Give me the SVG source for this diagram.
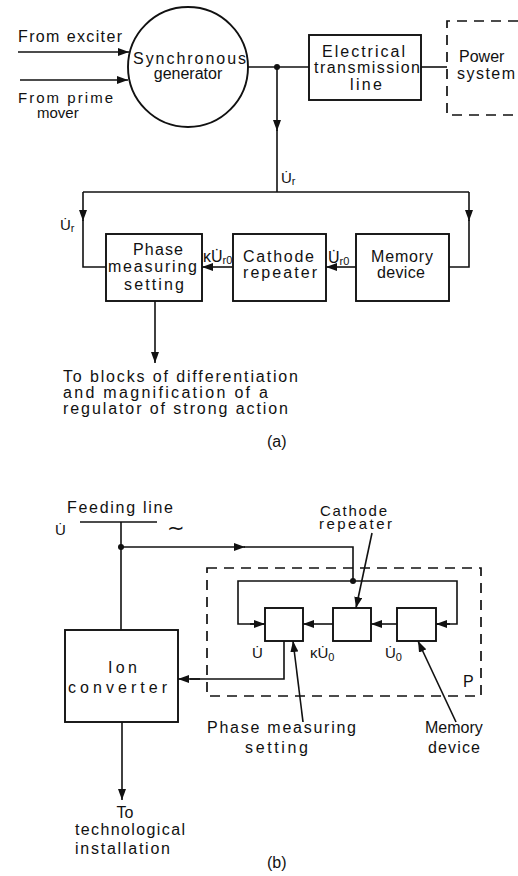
<svg xmlns="http://www.w3.org/2000/svg" width="518" height="876" viewBox="0 0 518 876">
<defs>
<style>
text{font-family:"Liberation Sans","DejaVu Sans",sans-serif;font-size:16px;fill:#111}
.ln{fill:none;stroke:#111;stroke-width:1.6}
.bx{fill:#fff;stroke:#111;stroke-width:1.9}
.ds{fill:none;stroke:#111;stroke-width:1.7;stroke-dasharray:10 7}
.sm{font-size:15px}
.sub{font-size:11px}
.t{font-size:15px}
.c{text-anchor:middle}
</style>
<marker id="ah" viewBox="0 0 11 8" refX="11" refY="4" markerWidth="11" markerHeight="8" markerUnits="userSpaceOnUse" orient="auto">
<path d="M0,0 L11,4 L0,8 Z" fill="#111"/>
</marker>
</defs>
<rect width="518" height="876" fill="#fff"/>

<g id="connectors">
<!-- (a) -->
<line class="ln" x1="18" y1="52" x2="129" y2="52" marker-end="url(#ah)"/>
<line class="ln" x1="20" y1="80" x2="128" y2="80" marker-end="url(#ah)"/>
<line class="ln" x1="248" y1="67" x2="309" y2="67"/>
<line class="ln" x1="421" y1="67" x2="447" y2="67"/>
<circle cx="277" cy="67" r="3" fill="#111"/>
<line class="ln" x1="277" y1="67" x2="277" y2="131" marker-end="url(#ah)"/>
<line class="ln" x1="277" y1="130" x2="277" y2="192"/>
<line class="ln" x1="83" y1="192" x2="469" y2="192"/>
<line class="ln" x1="83" y1="192" x2="83" y2="221" marker-end="url(#ah)"/>
<polyline class="ln" points="83,220 83,267 106,267"/>
<line class="ln" x1="469" y1="192" x2="469" y2="221" marker-end="url(#ah)"/>
<polyline class="ln" points="469,220 469,267 449,267"/>
<line class="ln" x1="233" y1="267" x2="202" y2="267" marker-end="url(#ah)"/>
<line class="ln" x1="356" y1="267" x2="326" y2="267" marker-end="url(#ah)"/>
<line class="ln" x1="155" y1="301" x2="155" y2="363" marker-end="url(#ah)"/>
<!-- (b) -->
<line class="ln" x1="80" y1="522" x2="157" y2="522"/>
<line class="ln" x1="121" y1="522" x2="121" y2="630"/>
<circle cx="121" cy="547" r="3" fill="#111"/>
<line class="ln" x1="121" y1="547" x2="245" y2="547" marker-end="url(#ah)"/>
<polyline class="ln" points="244,547 353,547 353,581"/>
<circle cx="353" cy="581" r="3" fill="#111"/>
<polyline class="ln" points="265,624 238,624 238,581 457,581 457,624 436,624"/>
<line class="ln" x1="250" y1="624" x2="265" y2="624" marker-end="url(#ah)"/>
<line class="ln" x1="450" y1="624" x2="436" y2="624" marker-end="url(#ah)"/>
<line class="ln" x1="333" y1="624" x2="303" y2="624" marker-end="url(#ah)"/>
<line class="ln" x1="397" y1="624" x2="371" y2="624" marker-end="url(#ah)"/>
<polyline class="ln" points="284,641 284,679 190,679"/>
<line class="ln" x1="200" y1="679" x2="178" y2="679" marker-end="url(#ah)"/>
<line class="ln" x1="122" y1="722" x2="122" y2="800" marker-end="url(#ah)"/>
<line class="ln" x1="372" y1="533" x2="356" y2="608" marker-end="url(#ah)"/>
<line class="ln" x1="303" y1="722" x2="293" y2="641" marker-end="url(#ah)"/>
<line class="ln" x1="456" y1="722" x2="418" y2="641" marker-end="url(#ah)"/>
</g>

<!-- (a) nodes -->
<g id="synchronous-generator">
<circle cx="188" cy="67" r="60" class="bx"/>
<text x="133" y="64" textLength="113">Synchronous</text>
<text x="188" y="79" class="c">generator</text>
</g>
<g id="transmission-line">
<rect x="309" y="35" width="112" height="65" class="bx"/>
<text x="322" y="57" textLength="83">Electrical</text>
<text x="314" y="73" textLength="106">transmission</text>
<text x="350" y="90" textLength="32">line</text>
</g>
<g id="power-system">
<path class="ds" d="M518,21 H447 V115 H518"/>
<text x="459" y="62">Power</text>
<text x="457" y="79" textLength="58">system</text>
</g>
<g id="phase-measuring-a">
<rect x="106" y="234" width="96" height="67" class="bx"/>
<text x="133" y="255" textLength="50">Phase</text>
<text x="108" y="272" textLength="89">measuring</text>
<text x="124" y="290" textLength="60">setting</text>
</g>
<g id="cathode-repeater-a">
<rect x="233" y="234" width="93" height="67" class="bx"/>
<text x="243" y="262" textLength="71">Cathode</text>
<text x="243" y="278" textLength="74">repeater</text>
</g>
<g id="memory-device-a">
<rect x="356" y="234" width="93" height="67" class="bx"/>
<text x="371" y="262" textLength="62">Memory</text>
<text x="377" y="278" textLength="48">device</text>
</g>
<g id="labels-a">
<text x="18" y="42" textLength="104">From exciter</text>
<text x="18" y="103" class="t" textLength="95">From prime</text>
<text x="37" y="118" class="t">mover</text>
<text x="281" y="183" class="sm">U̇<tspan class="sub" dy="2">r</tspan></text>
<text x="60" y="230" class="sm">U̇<tspan class="sub" dy="2">r</tspan></text>
<text x="203" y="262" font-size="14">κU̇<tspan class="sub" dy="2">r0</tspan></text>
<text x="328" y="263" font-size="14">U̇<tspan class="sub" dy="2">r0</tspan></text>
<text x="63" y="382" textLength="235">To blocks of differentiation</text>
<text x="63" y="398" textLength="205">and magnification of a</text>
<text x="63" y="414" textLength="225">regulator of strong action</text>
<text x="267" y="447" font-size="17">(a)</text>
</g>

<!-- (b) nodes -->
<g id="ion-converter">
<rect x="65" y="630" width="113" height="92" class="bx"/>
<text x="108" y="673" textLength="29">Ion</text>
<text x="68" y="693" textLength="99">converter</text>
</g>
<g id="block-p">
<rect class="ds" x="207" y="568" width="274" height="128"/>
<text x="463" y="687">P</text>
</g>
<g id="phase-measuring-b">
<rect x="265" y="608" width="38" height="33" class="bx"/>
</g>
<g id="cathode-repeater-b">
<rect x="333" y="608" width="38" height="33" class="bx"/>
</g>
<g id="memory-device-b">
<rect x="397" y="608" width="39" height="33" class="bx"/>
</g>
<g id="labels-b">
<text x="67" y="513" textLength="106">Feeding line</text>
<text x="55" y="535" class="sm">U̇</text>
<text x="167" y="535" style="font-family:'DejaVu Sans',sans-serif;font-size:21px">∼</text>
<text x="320" y="516" class="t" textLength="67">Cathode</text>
<text x="319" y="529" class="t" textLength="73">repeater</text>
<text x="252" y="658" class="sm">U̇</text>
<text x="310" y="658" class="sm">κU̇<tspan class="sub" dy="3">0</tspan></text>
<text x="385" y="658" class="sm">U̇<tspan class="sub" dy="3">0</tspan></text>
<text x="207" y="733" textLength="149">Phase measuring</text>
<text x="245" y="753" textLength="63">setting</text>
<text x="425" y="733">Memory</text>
<text x="428" y="753" textLength="52">device</text>
<text x="125" y="818" class="c">To</text>
<text x="75" y="835" textLength="110">technological</text>
<text x="75" y="854" textLength="95">installation</text>
<text x="267" y="868" font-size="17">(b)</text>
</g>
</svg>
